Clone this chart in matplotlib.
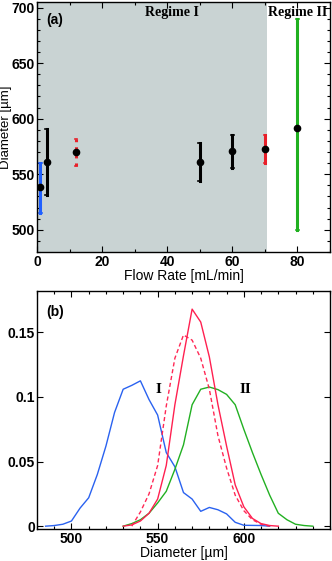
import matplotlib
matplotlib.use("Agg")
import matplotlib.pyplot as plt
from matplotlib.ticker import MultipleLocator

# panel (a): mean diameter vs flow rate
flow = [1, 3, 12, 50, 60, 70, 80]
diam_mean = [538.5, 561, 570, 561, 570.5, 573, 592]
diam_low = [515.5, 531.5, 557.5, 543.5, 556, 560.5, 499.5]
diam_high = [560.5, 591, 582, 578, 585, 585, 690]
bar_colors = ["#2060ff", "black", "#e8202a", "black", "black", "#e8202a", "#20b020"]
bar_styles = ["-", "-", ":", "-", "-", "-", "-"]
regime_edge = 70.5

# panel (b): size distributions
d_blue = [485, 490, 495, 500, 505, 510, 515, 520, 525, 530, 535, 540, 545, 550,
          555, 560, 565, 570, 575, 580, 585, 590, 595, 600, 605, 610, 615]
p_blue = [0, 0.0005, 0.0015, 0.004, 0.014, 0.022, 0.040, 0.062, 0.088, 0.106, 0.109,
          0.1125, 0.098, 0.086, 0.057, 0.046, 0.026, 0.021, 0.0115, 0.0145, 0.0127,
          0.0095, 0.003, 0.0007, 0.0006, 0.0005, 0]
d_red = [530, 535, 540, 545, 550, 555, 560, 565, 570, 575, 580, 585, 590, 595, 600,
         605, 610, 615, 620]
p_red = [0, 0.001, 0.004, 0.010, 0.021, 0.047, 0.094, 0.132, 0.168, 0.158, 0.131,
         0.094, 0.062, 0.032, 0.015, 0.006, 0.002, 0.0005, 0]
d_red_dash = [535, 540, 545, 550, 555, 560, 565, 570, 575, 580, 585, 590, 595, 600,
              605, 610, 615]
p_red_dash = [0, 0.011, 0.025, 0.047, 0.093, 0.130, 0.148, 0.144, 0.130, 0.106,
              0.070, 0.045, 0.024, 0.012, 0.005, 0.0015, 0]
d_green = [530, 535, 540, 545, 550, 555, 560, 565, 570, 575, 580, 585, 590, 595, 600,
           605, 610, 615, 620, 625, 630, 635, 640]
p_green = [0, 0.002, 0.005, 0.010, 0.018, 0.027, 0.044, 0.063, 0.094, 0.106, 0.1077,
           0.1057, 0.102, 0.094, 0.075, 0.057, 0.040, 0.024, 0.010, 0.005, 0.0015,
           0.0005, 0]

plt.rcParams['font.family'] = ['Liberation Sans', 'DejaVu Sans']
plt.rcParams['font.size'] = 10

fig = plt.figure(figsize=(3.32, 5.61), dpi=100)
ax1 = fig.add_axes([0.1114, 0.5508, 0.8826, 0.4456])
ax2 = fig.add_axes([0.1114, 0.057, 0.8826, 0.4242])

# ---- (a)
ax1.axvspan(0, regime_edge, color="#c9d3d3", lw=0, zorder=0)
for x, m, lo, hi, c, ls in zip(flow, diam_mean, diam_low, diam_high, bar_colors, bar_styles):
    ax1.plot([x, x], [lo, hi], color=c, lw=2.2, ls=ls, zorder=2)
    ax1.plot([x - 0.4, x + 0.4], [lo, lo], color=c, lw=1.2, zorder=2)
    ax1.plot([x - 0.4, x + 0.4], [hi, hi], color=c, lw=1.2, zorder=2)
ax1.plot(flow, diam_mean, "o", color="black", ms=4.5, zorder=3)
ax1.set_xlim(0, 90)
ax1.set_ylim(480, 705)
ax1.xaxis.set_major_locator(MultipleLocator(20))
ax1.xaxis.set_minor_locator(MultipleLocator(10))
ax1.yaxis.set_major_locator(MultipleLocator(50))
ax1.yaxis.set_minor_locator(MultipleLocator(10))
ax1.set_xlabel("Flow Rate [mL/min]", labelpad=0)
ax1.set_ylabel("Diameter [µm]", fontsize=9.5)
ax1.yaxis.set_label_coords(-0.084, 0.5)
ax1.text(0.03, 0.93, "(a)", transform=ax1.transAxes, fontweight="bold", va="center")
ax1.text(41.5, 696, "Regime I", family="Liberation Serif", fontweight="bold",
         ha="center", va="center", fontsize=10)
ax1.text(80, 696, "Regime II", family="Liberation Serif", fontweight="bold",
         ha="center", va="center", fontsize=10)

# ---- (b)
ax2.plot(d_blue, p_blue, color="#2a62f0", lw=1)
ax2.plot(d_green, p_green, color="#22b022", lw=1)
ax2.plot(d_red_dash, p_red_dash, color="#ff2855", lw=1, ls=(0, (3, 2)))
ax2.plot(d_red, p_red, color="#ff2050", lw=1)
ax2.text(550.5, 0.106, "I", family="Liberation Serif", fontweight="bold",
         fontsize=11, ha="center", va="center")
ax2.text(601, 0.106, "II", family="Liberation Serif", fontweight="bold",
         fontsize=11, ha="center", va="center")
ax2.set_xlim(480, 650)
ax2.set_ylim(-0.0022, 0.182)
ax2.set_xticks([500, 550, 600])
ax2.xaxis.set_minor_locator(MultipleLocator(10))
ax2.set_yticks([0, 0.05, 0.1, 0.15])
ax2.set_yticklabels(["0", "0.05", "0.1", "0.15"])
ax2.set_xlabel("Diameter [µm]", labelpad=0)
ax2.text(0.03, 0.91, "(b)", transform=ax2.transAxes, fontweight="bold", va="center")

for ax in (ax1, ax2):
    ax.tick_params(which="both", direction="in", top=True, right=True, width=0.8)
    ax.tick_params(which="major", length=4, pad=2)
    ax.tick_params(axis="y", which="major", pad=1.5)
    ax.tick_params(which="minor", length=2.5)
    for lab in ax.get_xticklabels() + ax.get_yticklabels():
        lab.set_fontweight("bold")
    for sp in ax.spines.values():
        sp.set_linewidth(1.0)

fig.savefig("out.png", dpi=100)
